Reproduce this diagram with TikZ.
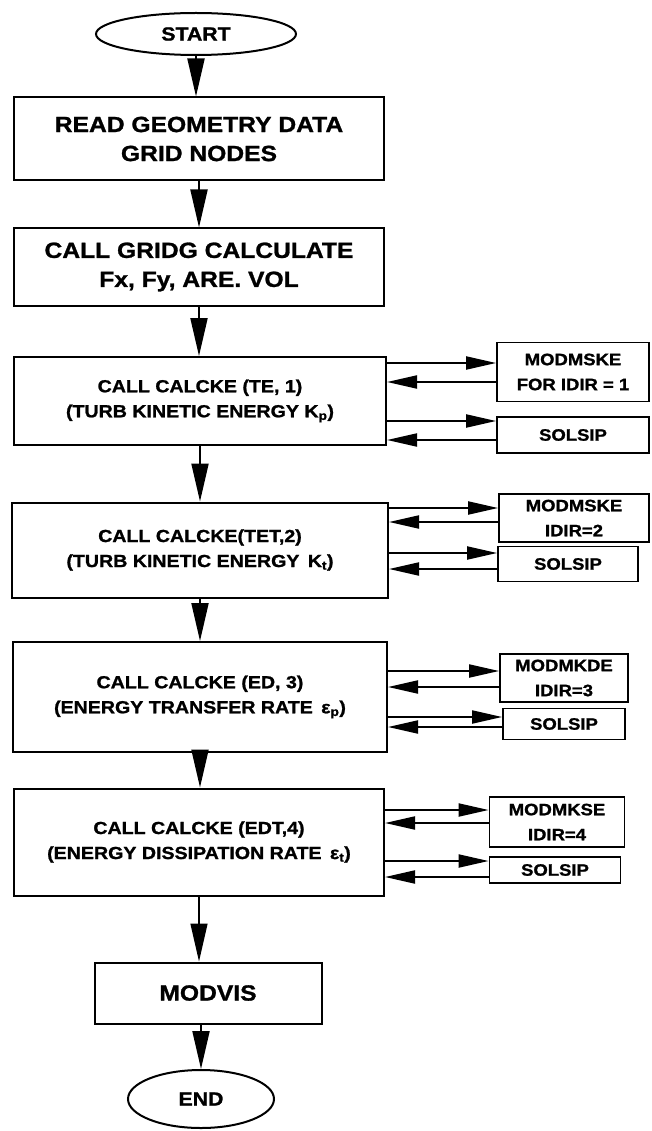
\documentclass[tikz,border=0pt]{standalone}
\usepackage{fontspec}
\setmainfont{Liberation Sans}[FakeStretch=1.12, BoldFeatures={FakeBold=1.2}]
\usetikzlibrary{%
  arrows.meta,
  shapes.geometric,
  positioning
}
\tikzset{
  stepbox/.style={draw, line width=2pt, align=center, inner sep=0pt,
                  font=\bfseries\fontsize{22}{29}\selectfont},
  callbox/.style={stepbox, minimum width=372pt,
                  font=\bfseries\fontsize{17.5}{25}\selectfont},
  subbox/.style={draw, line width=1.8pt, align=center, inner sep=0pt,
                 font=\bfseries\fontsize{16.5}{25}\selectfont},
  termnode/.style={draw, ellipse, line width=2pt, inner sep=0pt,
                   font=\bfseries\fontsize{19}{22}\selectfont},
  flow/.style={line width=2pt, -{Triangle[length=38pt, width=17pt]}},
  toside/.style={line width=2pt, -{Triangle[length=30pt, width=13pt]}},
}
% main box #1 calls side box #2, there and back
\newcommand{\callpair}[4]{%
  \draw [toside] ([yshift=#3]#2.west -| #1.east) -- ([yshift=#3]#2.west) ;
  \draw [toside] ([yshift=#4]#2.west) -- ([yshift=#4]#2.west -| #1.east) ;
}
\begin{document}
\begin{tikzpicture}[x=1pt, y=-1pt]
    \useasboundingbox (0,0) rectangle (651,1131) ;

    % main column
    \node [termnode, minimum width=200pt, minimum height=42pt] (start)
          at (196, 34) {START} ;
    \node [stepbox, minimum width=370pt, minimum height=83pt] (read)
          at (199, 139) {READ GEOMETRY DATA\\GRID NODES} ;
    \node [stepbox, minimum width=370pt, minimum height=77pt] (gridg)
          at (199, 267) {CALL GRIDG CALCULATE\\Fx, Fy, ARE. VOL} ;
    \node [callbox, minimum height=88pt] (ke1) at (200, 401)
          {CALL CALCKE (TE, 1)\\(TURB KINETIC ENERGY K\textsubscript{p})} ;
    \node [callbox, minimum width=376pt, minimum height=95pt] (ke2)
          at (200, 550)
          {CALL CALCKE(TET,2)\\(TURB KINETIC ENERGY\, K\textsubscript{t})} ;
    \node [callbox, minimum width=374pt, minimum height=110pt] (ke3)
          at (200, 697)
          {CALL CALCKE (ED, 3)\\(ENERGY TRANSFER RATE\, ε\textsubscript{p})} ;
    \node [callbox, minimum width=370pt, minimum height=107pt] (ke4)
          at (199, 842)
          {CALL CALCKE (EDT,4)\\(ENERGY DISSIPATION RATE\, ε\textsubscript{t})} ;
    \node [stepbox, minimum width=227pt, minimum height=61pt] (modvis)
          at (208, 993) {MODVIS} ;
    \node [termnode, minimum width=146pt, minimum height=58pt] (end)
          at (201, 1099) {END} ;

    % side calls
    \node [subbox, minimum width=152pt, minimum height=59pt] (msk1)
          at (573, 372) {MODMSKE\\FOR IDIR = 1} ;
    \node [subbox, minimum width=152pt, minimum height=36pt] (sip1)
          at (573, 435) {SOLSIP} ;
    \node [subbox, minimum width=150pt, minimum height=48pt] (msk2)
          at (574, 518) {MODMSKE\\IDIR=2} ;
    \node [subbox, minimum width=140pt, minimum height=35pt] (sip2)
          at (568, 564) {SOLSIP} ;
    \node [subbox, minimum width=128pt, minimum height=48pt] (mkd3)
          at (564, 678) {MODMKDE\\IDIR=3} ;
    \node [subbox, minimum width=122pt, minimum height=31pt] (sip3)
          at (564, 724) {SOLSIP} ;
    \node [subbox, minimum width=135pt, minimum height=50pt] (mks4)
          at (557, 822) {MODMKSE\\IDIR=4} ;
    \node [subbox, minimum width=131pt, minimum height=26pt] (sip4)
          at (555, 870) {SOLSIP} ;

    \draw [flow] (start) -- (start |- read.north) ;
    \draw [flow] (read) -- (read |- gridg.north) ;
    \draw [flow] (gridg) -- (gridg |- ke1.north) ;
    \draw [flow] (ke1) -- (ke1 |- ke2.north) ;
    \draw [flow] (ke2) -- (ke2 |- ke3.north) ;
    \draw [flow] (ke3) -- (ke3 |- ke4.north) ;
    \draw [flow, line width=1.4pt] (ke4.south) -- (ke4.south |- modvis.north) ;
    \draw [flow] (modvis.south -| end) -- (end.north) ;

    \callpair{ke1}{msk1}{9pt}{-10pt}
    \callpair{ke1}{sip1}{14pt}{-5pt}
    \callpair{ke2}{msk2}{10pt}{-4pt}
    \callpair{ke2}{sip2}{11pt}{-5pt}
    \callpair{ke3}{mkd3}{7pt}{-9pt}
    \callpair{ke3}{sip3}{7pt}{-3pt}
    \callpair{ke4}{mks4}{12pt}{-1pt}
    \callpair{ke4}{sip4}{9pt}{-7pt}
\end{tikzpicture}
\end{document}
